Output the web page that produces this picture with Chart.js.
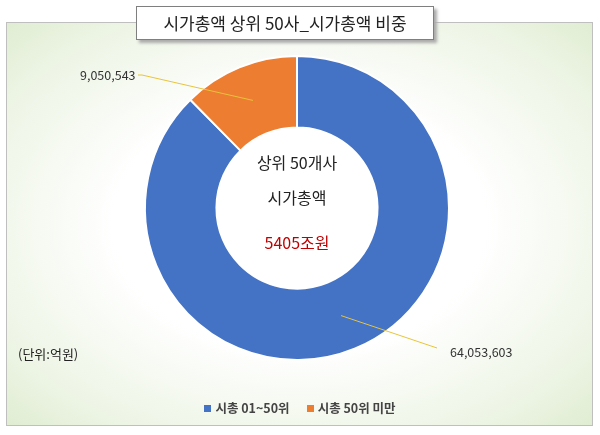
<!DOCTYPE html>
<html><head><meta charset="utf-8">
<script src="https://cdn.jsdelivr.net/npm/chart.js@4"></script>
<style>
body{margin:0;width:600px;height:435px;background:#fff;font-family:"Noto Sans CJK KR",sans-serif;}
#frame{position:absolute;left:6px;top:22px;width:585px;height:402px;border:1px solid #bfbfbf;
 background:radial-gradient(ellipse at 50% 50%,#ffffff 45%,#eef5e6 80%,#e0edd2 100%);}
#wrap{position:absolute;left:0;top:0;width:600px;height:435px;}
#title{position:absolute;left:136px;top:6px;width:296px;height:32px;background:#fff;border:1px solid #7f7f7f;
 box-shadow:3px 3px 3px #aaa;text-align:center;line-height:32px;font-size:17px;color:#222;}
#unit{position:absolute;left:18px;top:344px;font-size:13px;color:#222;}
#legend{position:absolute;left:0;width:600px;top:398px;text-align:center;font-size:12.5px;font-weight:bold;color:#444;}
#legend span.box{display:inline-block;width:7px;height:7px;margin-right:4px;vertical-align:1px;}
</style></head><body>
<div id="frame"></div>
<div id="wrap"><canvas id="c" width="600" height="435"></canvas></div>
<div id="title">시가총액 상위 50사_시가총액 비중</div>
<div id="unit">(단위:억원)</div>
<div id="legend"><span class="box" style="background:#4472c4"></span>시총 01~50위 &nbsp;&nbsp;&nbsp;&nbsp;&nbsp;<span class="box" style="background:#ed7d31"></span>시총 50위 미만</div>
<script>
var labels = ['시총 01~50위', '시총 50위 미만'];
var values = [64053603, 9050543];
var colors = ['#4472c4', '#ed7d31'];
var labelText = ['64,053,603', '9,050,543'];
var labelPos = [[440, 352], [70, 75]];

var callouts = {
  id: 'callouts',
  afterDraw: function(chart){
    var ctx = chart.ctx;
    var meta = chart.getDatasetMeta(0);
    ctx.save();
    meta.data.forEach(function(arc, i){
      var mid = (arc.startAngle + arc.endAngle) / 2;
      var r = (arc.innerRadius + arc.outerRadius) / 2;
      var x0 = arc.x + Math.cos(mid) * r, y0 = arc.y + Math.sin(mid) * r;
      var lp = labelPos[i];
      ctx.strokeStyle = '#e8c43a'; ctx.lineWidth = 1;
      ctx.beginPath(); ctx.moveTo(x0, y0);
      if (i == 0) { ctx.lineTo(lp[0]-3, lp[1]-4); }
      else { ctx.lineTo(lp[0]+72, lp[1]); ctx.lineTo(lp[0]+68, lp[1]); }
      ctx.stroke();
      ctx.fillStyle = '#333'; ctx.font = '12.5px "Noto Sans CJK KR"';
      ctx.textBaseline = 'middle'; ctx.textAlign = 'left';
      ctx.fillText(labelText[i], i == 0 ? lp[0]+10 : lp[0]+10, i == 0 ? lp[1] : lp[1]);
    });
    var cx = meta.data[0].x, cy = meta.data[0].y;
    ctx.textAlign = 'center';
    ctx.font = '16px "Noto Sans CJK KR"'; ctx.fillStyle = '#222';
    ctx.fillText('상위 50개사', cx, cy - 45);
    ctx.fillText('시가총액', cx, cy - 10);
    ctx.fillStyle = '#c00000';
    ctx.fillText('5405조원', cx, cy + 35);
    ctx.restore();
  }
};

new Chart(document.getElementById('c'), {
  type: 'doughnut',
  data: { labels: labels, datasets: [{ data: values, backgroundColor: colors, borderColor: '#fff', borderWidth: 2 }] },
  options: {
    responsive: false, animation: false, cutout: '53%',
    layout: { padding: { left: 144, right: 150, top: 55, bottom: 74 } },
    plugins: { legend: { display: false }, tooltip: { enabled: false } }
  },
  plugins: [callouts]
});
</script>
</body></html>
